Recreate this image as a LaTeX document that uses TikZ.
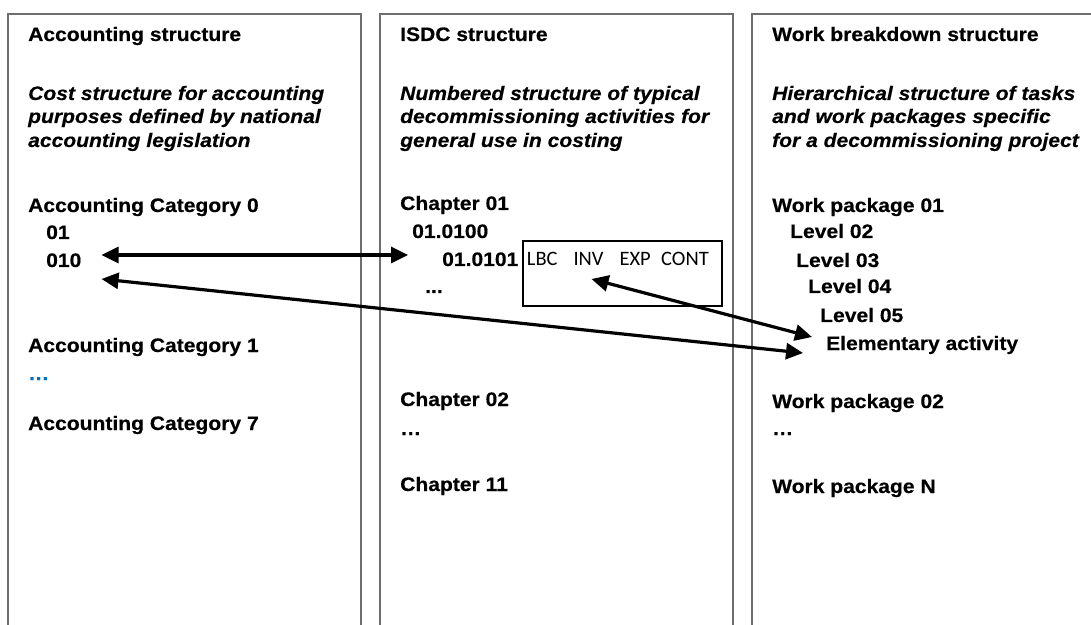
\documentclass[tikz,border=0pt]{standalone}
\usepackage{fontspec}
\setmainfont{Liberation Sans}[FakeStretch=1.08, FakeBold=0.4]
\newfontfamily\costfont{Carlito}
\usetikzlibrary{arrows.meta}
\definecolor{dotblue}{RGB}{0,112,192}
\definecolor{panelgray}{RGB}{110,110,110}
\newcommand\bodysize{\fontsize{19.5bp}{23.5bp}\selectfont}
\tikzset{
  lbl/.style={anchor=base west, inner sep=0pt, font=\bodysize\bfseries},
  ital/.style={lbl, font=\bodysize\bfseries\itshape},
  cost/.style={anchor=base west, inner sep=0pt, font=\costfont\fontsize{20.5bp}{24bp}\selectfont},
  panel/.style={draw=panelgray, line width=1.3bp},
  link/.style={line width=3.2bp, {Triangle[length=17bp,width=16bp]}-{Triangle[length=17bp,width=16bp]}}
}
\begin{document}
\begin{tikzpicture}[x=1bp, y=-1bp]
\useasboundingbox (0,0) rectangle (1091,625);

% three open-bottomed panels
\draw[panel] (8,625) -- (8,14) -- (361,14) -- (361,625);
\draw[panel] (380,625) -- (380,14) -- (733,14) -- (733,625);
\draw[panel] (752,625) -- (752,14) -- (1095,14);

% accounting structure
\node[lbl]  (accT)  at (28,41)  {Accounting structure};
\node[ital] (accD1) at (28,100) {Cost structure for accounting};
\node[ital] (accD2) at (28,123) {purposes defined by national};
\node[ital] (accD3) at (28,147) {accounting legislation};
\node[lbl]  (acc0)  at (28,212) {Accounting Category 0};
\node[lbl]  (a01)   at (46,239) {01};
\node[lbl]  (a010)  at (46,267) {010};
\node[lbl]  (acc1)  at (28,352) {Accounting Category 1};
\node[lbl, text=dotblue] (accDots) at (28,380) {…};
\node[lbl]  (acc7)  at (28,430) {Accounting Category 7};

% ISDC structure
\node[lbl]  (isdT)  at (400,41)  {ISDC structure};
\node[ital] (isdD1) at (400,100) {Numbered structure of typical};
\node[ital] (isdD2) at (400,123) {decommissioning activities for};
\node[ital] (isdD3) at (400,147) {general use in costing};
\node[lbl]  (ch01)  at (400,210) {Chapter 01};
\node[lbl]  (c0100) at (412,238) {01.0100};
\node[lbl]  (c0101) at (442,266) {01.0101};
\node[lbl]  (cDots) at (425,293) {...};
\node[lbl]  (ch02)  at (400,406) {Chapter 02};
\node[lbl]  (chDots) at (400,435) {…};
\node[lbl]  (ch11)  at (400,491) {Chapter 11};

% cost categories of an ISDC item
\node[draw, line width=2bp, anchor=north west, minimum width=199bp,
      minimum height=64.7bp, inner sep=0pt] (costbox) at (521.7,240.3) {};
\node[cost] (lbc)  at (526.7,266) {LBC};
\node[cost] (inv)  at (573.3,266) {INV};
\node[cost] (exp)  at (619.3,266) {EXP};
\node[cost] (cont) at (661,266)   {CONT};

% work breakdown structure
\node[lbl]  (wbsT)  at (772,41)  {Work breakdown structure};
\node[ital] (wbsD1) at (772,100) {Hierarchical structure of tasks};
\node[ital] (wbsD2) at (772,123) {and work packages specific};
\node[ital] (wbsD3) at (772,147) {for a decommissioning project};
\node[lbl]  (wp01)  at (772,212) {Work package 01};
\node[lbl]  (lv02)  at (790,238) {Level 02};
\node[lbl]  (lv03)  at (796,267) {Level 03};
\node[lbl]  (lv04)  at (808,293) {Level 04};
\node[lbl]  (lv05)  at (820,322) {Level 05};
\node[lbl]  (elem)  at (826,350) {Elementary activity};
\node[lbl]  (wp02)  at (772,408) {Work package 02};
\node[lbl]  (wpDots) at (772,435) {…};
\node[lbl]  (wpN)   at (772,493) {Work package N};

% mappings between the structures
\draw[link] ([shift={(20,-12)}]a010.base east) -- ([shift={(-34,-11)}]c0101.base west);
\draw[link] ([shift={(20,12)}]a010.base east) -- ([shift={(-23,3)}]elem.base west);
\draw[link] ([shift={(3,13)}]inv.base) -- ([shift={(-14,-13)}]elem.base west);
\end{tikzpicture}
\end{document}
